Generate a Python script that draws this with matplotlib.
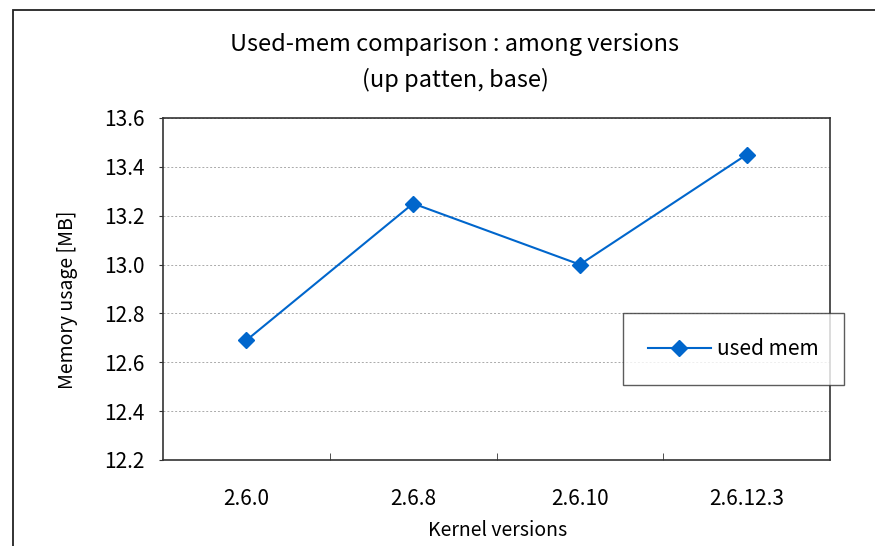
import matplotlib
matplotlib.use("Agg")
import matplotlib.pyplot as plt
from matplotlib.patches import Rectangle

# kernel versions and used memory (MB)
versions = ["2.6.0", "2.6.8", "2.6.10", "2.6.12.3"]
used_mem = [12.69, 13.25, 13.00, 13.45]
y_ticks = [12.2, 12.4, 12.6, 12.8, 13.0, 13.2, 13.4, 13.6]

plt.rcParams["font.family"] = ["Noto Sans CJK JP", "DejaVu Sans"]

fig = plt.figure(figsize=(8.75, 5.46), dpi=100)
ax = fig.add_axes([163 / 875, 86 / 546, 667 / 875, 342 / 546])

x = list(range(len(versions)))
ax.plot(x, used_mem, color="#0066CC", linewidth=1.5, marker="D",
        markersize=8, label="used mem")

ax.set_xlim(-0.5, len(versions) - 0.5)
ax.set_ylim(12.2, 13.6)
ax.set_yticks(y_ticks)
ax.set_yticklabels([f"{v:.1f}" for v in y_ticks])
ax.set_xticks(x)
ax.set_xticklabels(versions)
ax.set_xticks([0.5, 1.5, 2.5], minor=True)

ax.tick_params(axis="x", which="major", length=0, labelsize=15, pad=20)
ax.tick_params(axis="x", which="minor", direction="in", length=5, color="#333333")
ax.tick_params(axis="y", direction="out", length=3, labelsize=15, pad=10, color="#333333")

ax.yaxis.grid(True, linestyle=(0, (2, 2)), color="#aaaaaa", linewidth=0.7)
for s in ax.spines.values():
    s.set_color("#333333")
    s.set_linewidth(1.2)

fig.text(455 / 875, 1 - 45 / 546, "Used-mem comparison : among versions",
         ha="center", va="center", fontsize=17)
fig.text(455 / 875, 1 - 80 / 546, "(up patten, base)",
         ha="center", va="center", fontsize=17)

fig.text(498 / 875, 1 - 530 / 546, "Kernel versions", ha="center",
         va="center", fontsize=14)
fig.text(68 / 875, 1 - 300 / 546, "Memory usage [MB]", ha="center",
         va="center", rotation=90, fontsize=14)

leg = ax.legend(loc="upper left", bbox_to_anchor=(623 / 875, 1 - 313 / 546),
                bbox_transform=fig.transFigure, fontsize=15, frameon=True,
                fancybox=False, borderpad=1.2, borderaxespad=0,
                handlelength=3.0, handletextpad=0.3)
leg.get_frame().set_edgecolor("#333333")
leg.get_frame().set_linewidth(1.0)
leg._legend_box.align = "center"

# outer chart frame (cut off on right and bottom)
fig.patches.append(Rectangle((13 / 875, -0.1), 1.0, 1 - 10 / 546 + 0.1,
                             transform=fig.transFigure, fill=False,
                             edgecolor="#222222", linewidth=1.3))

fig.savefig("out.png", dpi=100)
